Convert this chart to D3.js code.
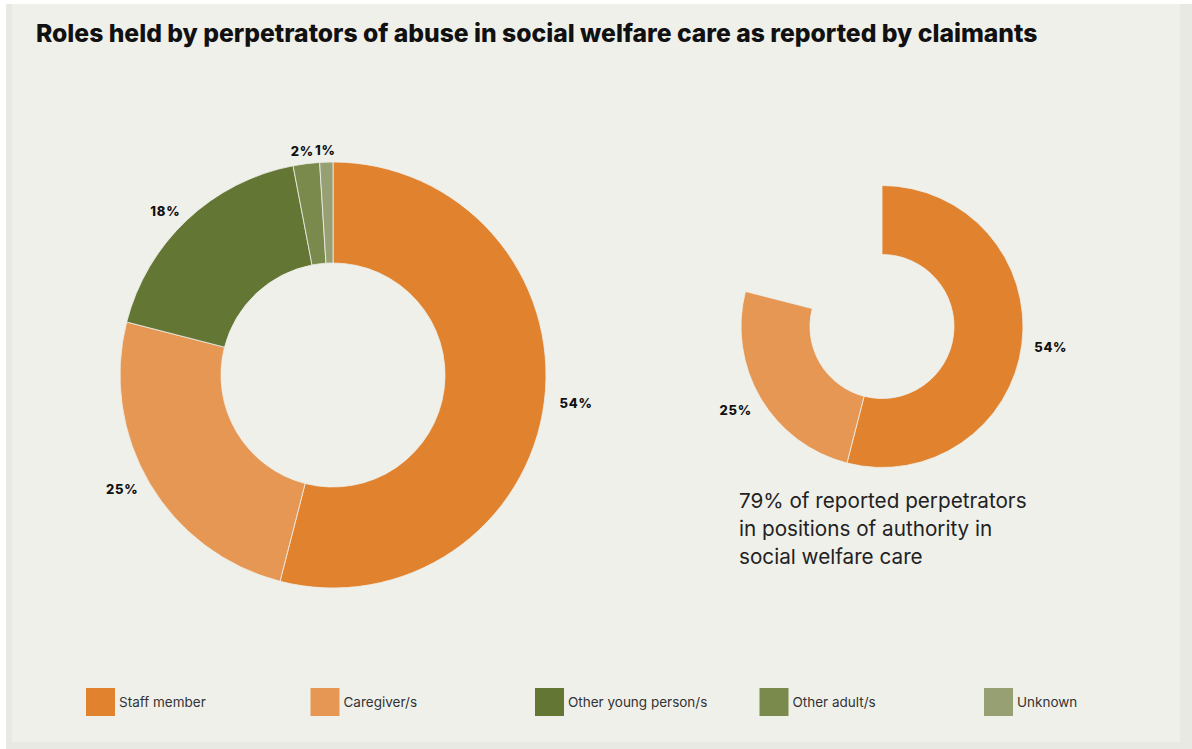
<!DOCTYPE html>
<html>
<head>
<meta charset="utf-8">
<script src="https://cdn.jsdelivr.net/npm/d3@7"></script>
<style>
  html, body { margin: 0; padding: 0; background: #ffffff; }
  svg { display: block; }
</style>
</head>
<body>
<svg id="chart" width="1192" height="749"></svg>
<script>
// ---- data ----
const categories = ["Staff member", "Caregiver/s", "Other young person/s", "Other adult/s", "Unknown"];
const values = [54, 25, 18, 2, 1];
const colors = ["#e0822e", "#e69753", "#637634", "#7a8a4d", "#97a072"];
const authorityCategories = ["Staff member", "Caregiver/s"];
const title = "Roles held by perpetrators of abuse in social welfare care as reported by claimants";
const noteLines = ["79% of reported perpetrators", "in positions of authority in", "social welfare care"];

const W = 1192, H = 749;
const svg = d3.select("#chart");

// background panels
svg.append("rect").attr("x", 6).attr("y", 4).attr("width", W - 6).attr("height", H - 4).attr("fill", "#e9e9e4");
svg.append("rect").attr("x", 12).attr("y", 4).attr("width", 1168).attr("height", 738).attr("fill", "#f0f0eb");

// title
const titleText = svg.append("text")
  .attr("x", 36).attr("y", 42)
  .attr("font-family", "Inter, 'Liberation Sans', sans-serif")
  .attr("font-weight", 800)
  .attr("font-size", 23)
  .attr("fill", "#111")
  .text(title);
const targetW = 1002;
const tw = titleText.node().getComputedTextLength();
titleText.attr("font-size", 23 * targetW / tw);

const color = d3.scaleOrdinal().domain(categories).range(colors);
const data = categories.map((c, i) => ({ cat: c, value: values[i] }));
const total = d3.sum(values);

// angle scale: share of 100% -> full circle
const angle = d3.scaleLinear().domain([0, total]).range([0, 2 * Math.PI]);

function layoutSlices(rows) {
  let acc = 0;
  return rows.map(d => {
    const s = { data: d, startAngle: angle(acc), endAngle: angle(acc + d.value) };
    acc += d.value;
    return s;
  });
}

function drawDonut(g, slices, outerR, innerR, labelRx, labelRy) {
  const arc = d3.arc().innerRadius(innerR).outerRadius(outerR);
  g.selectAll("path.slice").data(slices).join("path")
    .attr("class", "slice")
    .attr("d", arc)
    .attr("fill", d => color(d.data.cat))
    .attr("stroke", "#f0f0eb")
    .attr("stroke-width", 0.8);
  g.selectAll("text.lbl").data(slices).join("text")
    .attr("class", "lbl")
    .attr("transform", d => {
      const a = (d.startAngle + d.endAngle) / 2;
      return `translate(${labelRx * Math.sin(a)},${-labelRy * Math.cos(a)})`;
    })
    .attr("text-anchor", "middle")
    .attr("dy", "0.35em")
    .attr("font-family", "Inter, 'DejaVu Sans', sans-serif")
    .attr("font-weight", 800)
    .attr("font-size", 13)
    .attr("letter-spacing", 0.7)
    .attr("fill", "#111")
    .text(d => d.data.value + "%");
}

// big donut
const gBig = svg.append("g").attr("transform", "translate(333,375)");
drawDonut(gBig, layoutSlices(data), 213, 112, 245, 225);

// small donut (authority roles only, same angles)
const gSmall = svg.append("g").attr("transform", "translate(882,326.5)");
drawDonut(gSmall, layoutSlices(data.filter(d => authorityCategories.includes(d.cat))), 141, 72, 170, 165);

// note text
const note = svg.append("text")
  .attr("x", 739).attr("y", 508)
  .attr("font-family", "Inter, 'Liberation Sans', sans-serif")
  .attr("font-size", 20.7)
  .attr("fill", "#222");
note.selectAll("tspan").data(noteLines).join("tspan")
  .attr("x", 739)
  .attr("dy", (d, i) => i === 0 ? 0 : 28)
  .text(d => d);

// legend
const legendX = d3.scalePoint().domain(categories).range([86, 984]);
const lg = svg.append("g");
const items = lg.selectAll("g").data(categories).join("g")
  .attr("transform", d => `translate(${legendX(d)},688)`);
items.append("rect").attr("width", 29).attr("height", 28).attr("fill", d => color(d));
items.append("text")
  .attr("x", 33).attr("y", 14).attr("dy", "0.35em")
  .attr("font-family", "Inter, 'Liberation Sans', sans-serif")
  .attr("font-size", 13.5)
  .attr("fill", "#333")
  .text(d => d);
</script>
</body>
</html>
